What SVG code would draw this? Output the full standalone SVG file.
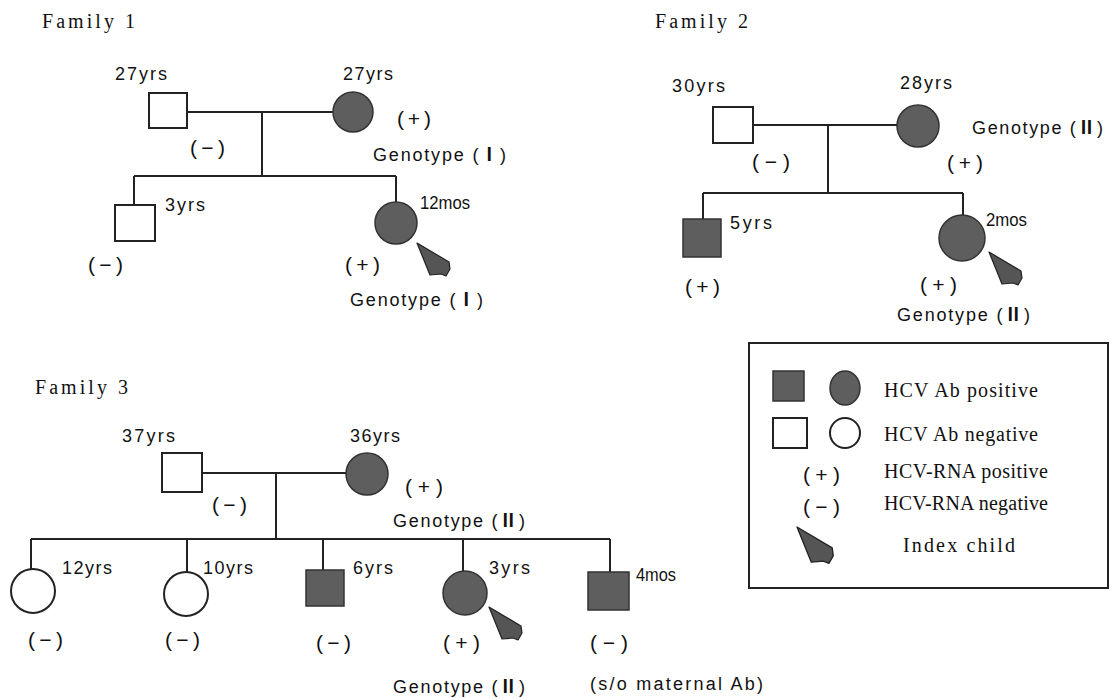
<svg xmlns="http://www.w3.org/2000/svg" xmlns:xlink="http://www.w3.org/1999/xlink" width="1112" height="698" viewBox="0 0 1112 698">
<style>
.bg{fill:#fff}
.ln{stroke:#222;stroke-width:2;fill:none}
.pos{fill:#5e5e5e;stroke:#333;stroke-width:1.5}
.neg{fill:#fff;stroke:#222;stroke-width:2}
.t{font-family:"Liberation Sans","Noto Sans CJK JP",sans-serif;font-size:18px;fill:#111}
.p{font-family:"Liberation Sans","Noto Sans CJK JP",sans-serif;font-size:21px;fill:#111}
.s{font-family:"Liberation Serif","Noto Sans CJK JP",serif;font-size:20px;fill:#111}
.r{font-family:"Liberation Serif","Noto Sans CJK JP",serif;font-weight:bold}
.idx{fill:#555;stroke:#222;stroke-width:1.2;stroke-linejoin:round}
</style>
<defs>
<path id="arrow" d="M0,0 L32,19 L33,26 L29,33 L24,31 L13,32 Z"/>
</defs>
<rect class="bg" x="0" y="0" width="1112" height="698"/>

<g id="titles">
<text class="s" x="42" y="28" textLength="93" lengthAdjust="spacing">Family 1</text>
<text class="s" x="655" y="28" textLength="93" lengthAdjust="spacing">Family 2</text>
<text class="s" x="35" y="394" textLength="93" lengthAdjust="spacing">Family 3</text>
</g>

<g id="connectors">
<!-- Family 1 -->
<path class="ln" d="M187,112 H333 M262,112 V176 M134,176 H396 M134,176 V205 M396,176 V202"/>
<!-- Family 2 -->
<path class="ln" d="M753,125 H897 M828,125 V193 M703,193 H963 M703,193 V219 M963,193 V215"/>
<!-- Family 3 -->
<path class="ln" d="M202,473 H346 M276,473 V539 M31,539 H610 M31,539 V569 M187,539 V572 M323,539 V570 M463,539 V571 M610,539 V572"/>
</g>

<!-- Family 1 -->
<g id="f1-father">
<rect class="neg" x="149" y="93" width="38" height="35"/>
<text class="t" x="115" y="80" textLength="52" lengthAdjust="spacing">27yrs</text>
<text class="p" x="190" y="155" textLength="35" lengthAdjust="spacing">(−)</text>
</g>
<g id="f1-mother">
<circle class="pos" cx="353" cy="112" r="20"/>
<text class="t" x="343" y="80" textLength="50" lengthAdjust="spacing">27yrs</text>
<text class="p" x="397" y="126" textLength="34" lengthAdjust="spacing">(+)</text>
<text class="t" x="373" y="161" textLength="133" lengthAdjust="spacing">Genotype (<tspan class="r">Ⅰ</tspan>)</text>
</g>
<g id="f1-son">
<rect class="neg" x="115" y="205" width="40" height="36"/>
<text class="t" x="165" y="211" textLength="40" lengthAdjust="spacing">3yrs</text>
<text class="p" x="88" y="272" textLength="35" lengthAdjust="spacing">(−)</text>
</g>
<g id="f1-daughter">
<circle class="pos" cx="396" cy="223" r="21"/>
<text class="t" x="420" y="209" textLength="50" lengthAdjust="spacingAndGlyphs">12mos</text>
<text class="p" x="345" y="272" textLength="35" lengthAdjust="spacing">(+)</text>
<use xlink:href="#arrow" class="idx" transform="translate(417,243)"/>
<text class="t" x="350" y="306" textLength="133" lengthAdjust="spacing">Genotype (<tspan class="r">Ⅰ</tspan>)</text>
</g>

<!-- Family 2 -->
<g id="f2-father">
<rect class="neg" x="713" y="107" width="40" height="36"/>
<text class="t" x="672" y="92" textLength="53" lengthAdjust="spacing">30yrs</text>
<text class="p" x="752" y="169" textLength="38" lengthAdjust="spacing">(−)</text>
</g>
<g id="f2-mother">
<circle class="pos" cx="918" cy="126" r="21"/>
<text class="t" x="900" y="89" textLength="52" lengthAdjust="spacing">28yrs</text>
<text class="t" x="972" y="134" textLength="131" lengthAdjust="spacing">Genotype (<tspan class="r">Ⅱ</tspan>)</text>
<text class="p" x="947" y="170" textLength="36" lengthAdjust="spacing">(+)</text>
</g>
<g id="f2-son">
<rect class="pos" x="683" y="219" width="38" height="38"/>
<text class="t" x="730" y="229" textLength="42" lengthAdjust="spacing">5yrs</text>
<text class="p" x="685" y="294" textLength="35" lengthAdjust="spacing">(+)</text>
</g>
<g id="f2-daughter">
<circle class="pos" cx="962" cy="238" r="23"/>
<text class="t" x="986" y="226" textLength="41" lengthAdjust="spacingAndGlyphs">2mos</text>
<use xlink:href="#arrow" class="idx" transform="translate(989,252)"/>
<text class="p" x="920" y="292" textLength="37" lengthAdjust="spacing">(+)</text>
<text class="t" x="897" y="321" textLength="133" lengthAdjust="spacing">Genotype (<tspan class="r">Ⅱ</tspan>)</text>
</g>

<!-- Legend -->
<g id="legend">
<rect x="749" y="343" width="359" height="245" fill="none" stroke="#222" stroke-width="2"/>
<rect class="pos" x="773" y="371" width="31" height="30"/>
<ellipse class="pos" cx="845" cy="388" rx="15" ry="17"/>
<text class="s" x="884" y="397" textLength="154" lengthAdjust="spacing">HCV Ab positive</text>
<rect class="neg" x="773" y="418" width="34" height="30"/>
<ellipse class="neg" cx="845" cy="433" rx="15" ry="15"/>
<text class="s" x="884" y="441" textLength="154" lengthAdjust="spacing">HCV Ab negative</text>
<text class="p" x="803" y="482" textLength="37" lengthAdjust="spacing">(+)</text>
<text class="s" x="884" y="478" textLength="164" lengthAdjust="spacing">HCV-RNA positive</text>
<text class="p" x="803" y="514" textLength="37" lengthAdjust="spacing">(−)</text>
<text class="s" x="884" y="510" textLength="164" lengthAdjust="spacing">HCV-RNA negative</text>
<use xlink:href="#arrow" class="idx" transform="translate(797,527) scale(1.1)"/>
<text class="s" x="903" y="552" textLength="112" lengthAdjust="spacing">Index child</text>
</g>

<!-- Family 3 -->
<g id="f3-father">
<rect class="neg" x="162" y="453" width="40" height="39"/>
<text class="t" x="122" y="442" textLength="53" lengthAdjust="spacing">37yrs</text>
<text class="p" x="212" y="512" textLength="35" lengthAdjust="spacing">(−)</text>
</g>
<g id="f3-mother">
<circle class="pos" cx="367" cy="474" r="21"/>
<text class="t" x="350" y="442" textLength="50" lengthAdjust="spacing">36yrs</text>
<text class="p" x="405" y="494" textLength="38" lengthAdjust="spacing">(+)</text>
<text class="t" x="393" y="527" textLength="132" lengthAdjust="spacing">Genotype (<tspan class="r">Ⅱ</tspan>)</text>
</g>
<g id="f3-child1">
<circle class="neg" cx="33" cy="591" r="22"/>
<text class="t" x="62" y="574" textLength="50" lengthAdjust="spacing">12yrs</text>
<text class="p" x="28" y="647" textLength="35" lengthAdjust="spacing">(−)</text>
</g>
<g id="f3-child2">
<circle class="neg" cx="186" cy="594" r="22"/>
<text class="t" x="203" y="574" textLength="50" lengthAdjust="spacing">10yrs</text>
<text class="p" x="165" y="647" textLength="35" lengthAdjust="spacing">(−)</text>
</g>
<g id="f3-child3">
<rect class="pos" x="306" y="570" width="38" height="36"/>
<text class="t" x="353" y="574" textLength="40" lengthAdjust="spacing">6yrs</text>
<text class="p" x="316" y="650" textLength="35" lengthAdjust="spacing">(−)</text>
</g>
<g id="f3-child4">
<circle class="pos" cx="465" cy="593" r="22"/>
<text class="t" x="489" y="574" textLength="41" lengthAdjust="spacing">3yrs</text>
<use xlink:href="#arrow" class="idx" transform="translate(489,607)"/>
<text class="p" x="443" y="650" textLength="37" lengthAdjust="spacing">(+)</text>
<text class="t" x="393" y="693" textLength="132" lengthAdjust="spacing">Genotype (<tspan class="r">Ⅱ</tspan>)</text>
</g>
<g id="f3-child5">
<rect class="pos" x="588" y="572" width="41" height="38"/>
<text class="t" x="636" y="581" textLength="40" lengthAdjust="spacingAndGlyphs">4mos</text>
<text class="p" x="590" y="650" textLength="38" lengthAdjust="spacing">(−)</text>
<text class="t" x="590" y="690" textLength="173" lengthAdjust="spacing">(s/o maternal Ab)</text>
</g>
</svg>
